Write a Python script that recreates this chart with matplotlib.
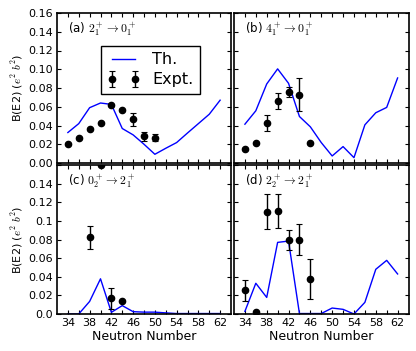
import matplotlib
matplotlib.use("Agg")
import matplotlib.pyplot as plt
import numpy as np

plt.rcParams['mathtext.fontset'] = 'cm'
plt.rcParams['font.family'] = ['DejaVu Sans']

# ---- data ----
N = [34, 36, 38, 40, 42, 44, 46, 48, 50, 52, 54, 56, 58, 60, 62]

th_a = [0.0325, 0.042, 0.059, 0.064, 0.0625, 0.0368, 0.030, 0.020, 0.0093, 0.0157, 0.0218, 0.032, 0.042, 0.052, 0.067]
ex_a_N = [34, 36, 38, 40, 42, 44, 46, 48, 50]
ex_a = [0.020, 0.0264, 0.0364, 0.0425, 0.062, 0.0568, 0.0468, 0.0286, 0.027]
er_a = [0.001, 0.001, 0.001, 0.001, 0.001, 0.001, 0.007, 0.005, 0.004]

th_b = [0.0414, 0.0557, 0.0843, 0.1004, 0.085, 0.0496, 0.0386, 0.0218, 0.0075, 0.0175, 0.0057, 0.0407, 0.0536, 0.0593, 0.0907]
ex_b_N = [34, 36, 38, 40, 42, 44, 46]
ex_b = [0.0154, 0.0211, 0.0429, 0.0664, 0.0761, 0.0729, 0.0218]
er_b = [0.001, 0.001, 0.0084, 0.0086, 0.0054, 0.0173, 0.001]

th_c = [0.0, 0.0, 0.0135, 0.0378, 0.0018, 0.009, 0.0025, 0.002, 0.002, 0.0012, 0.0005, 0.0005, 0.0005, 0.0005, 0.0005]
ex_c_N = [38, 40, 42, 44]
ex_c = [0.0823, 0.160, 0.0167, 0.0139]
er_c = [0.012, 0.001, 0.011, 0.001]

th_d = [0.0028, 0.033, 0.0178, 0.0769, 0.0783, 0.0005, 0.0005, 0.0005, 0.0064, 0.005, 0.0, 0.0125, 0.048, 0.0576, 0.043]
ex_d_N = [34, 36, 38, 40, 42, 44, 46]
ex_d = [0.0253, 0.0018, 0.1097, 0.1104, 0.0794, 0.080, 0.0377]
er_d = [0.011, 0.001, 0.0187, 0.018, 0.011, 0.017, 0.0216]

labels = [r"(a) $2_1^+ \rightarrow 0_1^+$", r"(b) $4_1^+ \rightarrow 0_1^+$",
          r"(c) $0_2^+ \rightarrow 2_1^+$", r"(d) $2_2^+ \rightarrow 2_1^+$"]

xticks = list(range(34, 63, 2))
xticklabels = [str(t) if (t - 34) % 4 == 0 else "" for t in xticks]
yticks = [0.0, 0.02, 0.04, 0.06, 0.08, 0.10, 0.12, 0.14, 0.16]
ytl_top = ["0.00", "0.02", "0.04", "0.06", "0.08", "0.10", "0.12", "0.14", "0.16"]
ytl_bot = ["0.0", "0.02", "0.04", "0.06", "0.08", "0.1", "0.12", "0.14", ""]

fig = plt.figure(figsize=(4.16, 3.51), dpi=100)
W = 416.0
H = 351.0
pos = {
    'a': [57 / W, 1 - 163 / H, 174 / W, 150 / H],
    'b': [234 / W, 1 - 163 / H, 174.5 / W, 150 / H],
    'c': [57 / W, 1 - 314 / H, 174 / W, 149 / H],
    'd': [234 / W, 1 - 314 / H, 174.5 / W, 149 / H],
}
panels = [
    ('a', th_a, ex_a_N, ex_a, er_a),
    ('b', th_b, ex_b_N, ex_b, er_b),
    ('c', th_c, ex_c_N, ex_c, er_c),
    ('d', th_d, ex_d_N, ex_d, er_d),
]

for i, (key, th, exN, ex, er) in enumerate(panels):
    ax = fig.add_axes(pos[key])
    ln, = ax.plot(N, th, color='#0000ff', lw=1.0, label='Th.')
    eb = ax.errorbar(exN, ex, yerr=er, fmt='o', color='black', ms=4.5,
                     elinewidth=1.0, capsize=2, capthick=0.8, ecolor='black',
                     label='Expt.')
    ax.set_xlim(32, 64)
    ax.set_ylim(0, 0.16)
    ax.set_xticks(xticks)
    ax.set_yticks(yticks)
    for s in ax.spines.values():
        s.set_linewidth(1.2)
    ax.tick_params(direction='in', length=3, width=0.8, top=True, right=True,
                   labelsize=8, pad=3)
    if key in ('a', 'b'):
        ax.set_xticklabels([])
    else:
        ax.set_xticklabels(xticklabels)
        ax.set_xlabel('Neutron Number', fontsize=9, labelpad=1)
    if key in ('a', 'c'):
        ax.set_yticklabels(ytl_top if key == 'a' else ytl_bot)
        ax.set_ylabel(r'B(E2) ($e^2\ b^2$)', fontsize=8, labelpad=2)
    else:
        ax.set_yticklabels([])
    ax.text(0.063, 0.885, labels[i], transform=ax.transAxes, fontsize=8.5,
            ha='left', va='center')
    if key == 'a':
        ax.legend(handles=[ln, eb], loc='upper right',
                  bbox_to_anchor=(0.822, 0.78), borderaxespad=0,
                  fontsize=11.5, numpoints=2, frameon=True, fancybox=False,
                  edgecolor='black', framealpha=1, handlelength=2.0,
                  borderpad=0.4, labelspacing=0.3, handletextpad=0.8)

fig.savefig('out.png', dpi=100)
